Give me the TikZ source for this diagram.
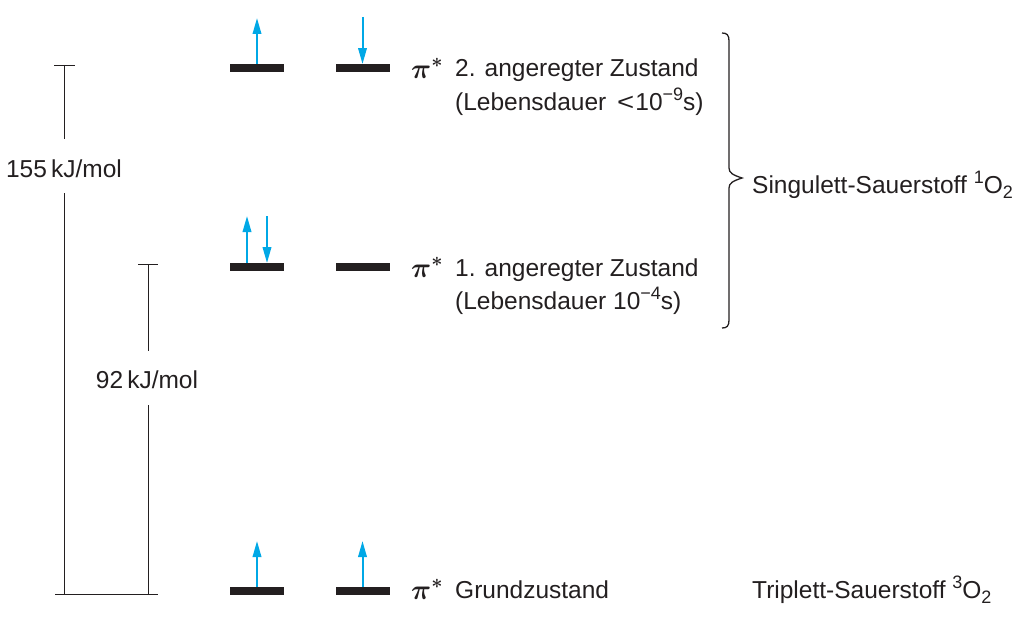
\RequirePackage{fix-cm}
\documentclass[tikz,border=0pt]{standalone}
\usepackage{fontspec}
\setmainfont{Liberation Sans}
\usetikzlibrary{arrows.meta}
\definecolor{spincol}{RGB}{0,168,230}
\definecolor{ink}{RGB}{35,31,32}
\newcommand{\mysup}[1]{\raisebox{0.4em}{\fontsize{18}{18}\selectfont #1}}
\newcommand{\mysub}[1]{\raisebox{-0.22em}{\fontsize{18}{18}\selectfont #1}}
\begin{document}
\begin{tikzpicture}[x=1pt,y=-1pt,
  font=\fontsize{24.5}{33}\selectfont,
  bar/.style={fill=ink,draw=none,minimum width=54pt,minimum height=7.5pt,inner sep=0pt},
  spin/.style={draw=spincol,line width=2pt,-{Triangle[length=16pt,width=8.5pt]}},
  txt/.style={anchor=base west,inner sep=0pt,text=ink},
  pistar/.style={anchor=base west,inner sep=0pt,text=ink,font=\fontsize{28}{30}\selectfont\boldmath},
  dim/.style={draw=ink,line width=0.9pt},
  brace/.style={draw=ink,line width=1.3pt}]
\useasboundingbox (0,0) rectangle (1033,618);

% energy levels
\node[bar] (b2l) at (257,68) {};
\node[bar] (b2r) at (362.5,68) {};
\node[bar] (b1l) at (257,267) {};
\node[bar] (b1r) at (362.5,267) {};
\node[bar] (b0l) at (257,591) {};
\node[bar] (b0r) at (362.5,591) {};

% spins
\coordinate (s2u) at (257,18);
\coordinate (s2d) at (362.5,17);
\coordinate (s1u) at (247,216);
\coordinate (s1d) at (267,216);
\coordinate (s0u) at (257,541);
\coordinate (s0v) at (362.5,541);
\draw[spin] (b2l.north) -- (s2u);
\draw[spin] (s2d) -- (b2r.north);
\draw[spin] (b1l.north -| s1u) -- (s1u);
\draw[spin] (s1d) -- (b1l.north -| s1d);
\draw[spin] (b0l.north) -- (s0u);
\draw[spin] (b0r.north) -- (s0v);

% labels of levels
\node[pistar] (p2) at (411,78) {$\pi^*$};
\node[txt] (t2a) at (455,77) {2. angeregter Zustand};
\node[txt] (t2b) at (455,110) {(Lebensdauer\hspace{4pt} \scalebox{1.2}[1]{<}\hspace{1pt}10\mysup{\char"2212 9}s)};
\node[pistar] (p1) at (411,277) {$\pi^*$};
\node[txt] (t1a) at (455,276) {1. angeregter Zustand};
\node[txt] (t1b) at (455,309) {(Lebensdauer 10\mysup{\char"2212 4}s)};
\node[pistar] (p0) at (411,599) {$\pi^*$};
\node[txt] (t0) at (455,598) {Grundzustand};
\node[txt] (trip) at (752,598) {Triplett-Sauerstoff \mysup{3}O\mysub{2}};
\node[txt] (sing) at (752,193) {Singulett-Sauerstoff \mysup{1}O\mysub{2}};

% brace
\draw[brace] (722,33) .. controls (727,33) and (729,35) .. (729,41)
  -- (729,168) .. controls (729,173) and (733,175) .. (742,178)
  .. controls (733,181) and (729,183) .. (729,188)
  -- (729,320) .. controls (729,326) and (727,328) .. (722,328);

% energy differences
\node[anchor=base,inner sep=0pt,text=ink] (e155) at (64,177) {155\,kJ/mol};
\node[anchor=base,inner sep=0pt,text=ink] (e92) at (147,388) {92\,kJ/mol};
\coordinate (a155) at (64,65);
\coordinate (a155m) at (64,139);
\coordinate (a155n) at (64,193);
\coordinate (a155b) at (64,594);
\coordinate (a92) at (148,264);
\coordinate (a92m) at (148,351);
\coordinate (a92n) at (148,405);
\coordinate (a92b) at (148,594);
\coordinate (gl) at (55,594);
\coordinate (gr) at (158,594);
\draw[dim] (54,65) -- (75,65);
\draw[dim] (a155) -- (a155m);
\draw[dim] (a155n) -- (a155b);
\draw[dim] (138,264) -- (158,264);
\draw[dim] (a92) -- (a92m);
\draw[dim] (a92n) -- (a92b);
\draw[dim] (gl) -- (gr);
\end{tikzpicture}
\end{document}
